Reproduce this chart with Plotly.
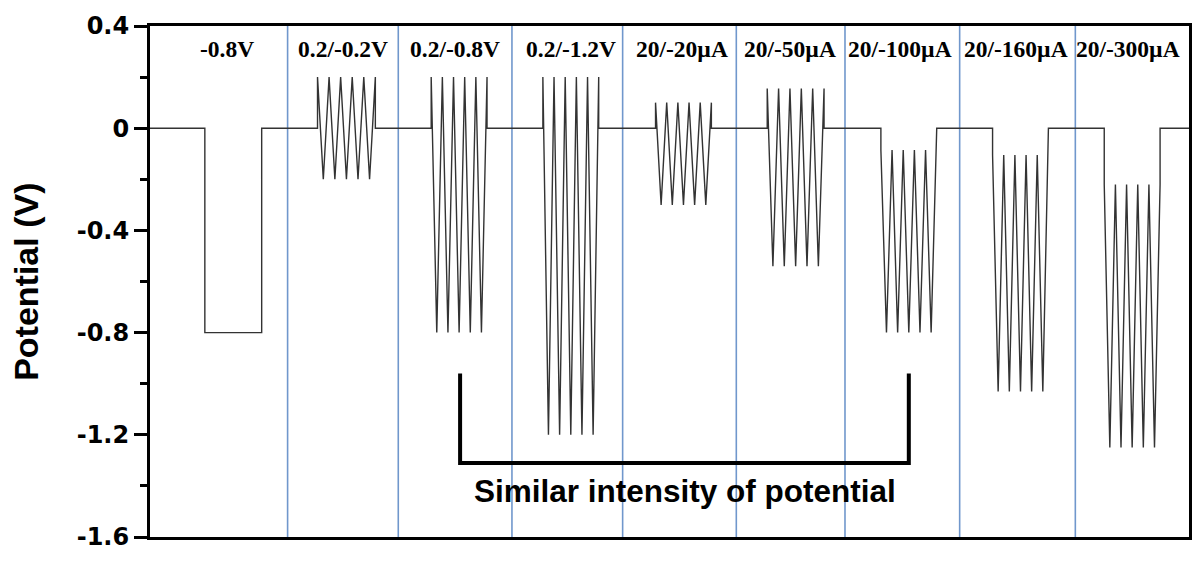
import plotly.graph_objects as go

# ---- data ----
labels = ["-0.8V", "0.2/-0.2V", "0.2/-0.8V", "0.2/-1.2V", "20/-20µA",
          "20/-50µA", "20/-100µA", "20/-160µA", "20/-300µA"]
label_x = [77, 194, 306, 422, 534, 642, 752, 868, 981]
pulse_start = [55, 168, 282, 394, 507, 619, 733, 845, 957]
pulse_end = [112, 226, 338, 450, 563, 676, 789, 901, 1013]
upper = [-0.8, 0.2, 0.2, 0.2, 0.1, 0.155, -0.085, -0.105, -0.22]
lower = [-0.8, -0.2, -0.8, -1.2, -0.3, -0.54, -0.8, -1.03, -1.25]
cycles = [0, 5, 5, 5, 5, 5, 5, 5, 5]
dividers = [138, 249, 363, 474, 588, 697, 812, 928]
t_end = 1042
ytick_vals = [0.4, 0, -0.4, -0.8, -1.2, -1.6]
ytick_text = ["0.4", "0", "-0.4", "-0.8", "-1.2", "-1.6"]
bracket_x = [311, 761]
bracket_y = [-0.96, -1.31]
note_text = "Similar intensity of potential"

# ---- build the waveform ----
t = [0]
v = [0]
for s, e, u, lo, n in zip(pulse_start, pulse_end, upper, lower, cycles):
    t.append(s); v.append(0)
    if n == 0:
        t += [s, e]; v += [u, lo]
    else:
        for k in range(2 * n + 1):
            t.append(s + (e - s) * k / (2 * n))
            v.append(u if k % 2 == 0 else lo)
    t.append(e); v.append(0)
t.append(t_end); v.append(0)

fig = go.Figure()
fig.add_trace(go.Scatter(x=t, y=v, mode="lines",
                         line=dict(color="#333333", width=1.4),
                         showlegend=False, hoverinfo="skip"))

shapes = []
for d in dividers:
    shapes.append(dict(type="line", xref="x", yref="paper", x0=d, x1=d, y0=0, y1=1,
                       line=dict(color="#7097cc", width=1.6), layer="below"))
shapes.append(dict(type="path", xref="x", yref="y",
                   path=f"M {bracket_x[0]} {bracket_y[0]} L {bracket_x[0]} {bracket_y[1]} "
                        f"L {bracket_x[1]} {bracket_y[1]} L {bracket_x[1]} {bracket_y[0]}",
                   line=dict(color="black", width=4)))

annotations = []
for lx, lab in zip(label_x, labels):
    annotations.append(dict(x=lx, y=0.31, xref="x", yref="y", text=f"<b>{lab}</b>",
                            showarrow=False, xanchor="center", yanchor="middle",
                            font=dict(family="Liberation Serif", size=23.5, color="black")))
annotations.append(dict(x=(bracket_x[0] + bracket_x[1]) / 2 + 1, y=-1.42, xref="x", yref="y",
                        text=f"<b>{note_text}</b>", showarrow=False,
                        xanchor="center", yanchor="middle",
                        font=dict(family="Liberation Sans", size=31.5, color="black")))
annotations.append(dict(x=-125 / 1042, y=0.5, xref="paper", yref="paper",
                        text="<b>Potential (V)</b>", showarrow=False, textangle=-90,
                        xanchor="center", yanchor="middle",
                        font=dict(family="Liberation Sans", size=34, color="black")))

fig.update_layout(
    width=1196, height=563,
    margin=dict(l=150, r=4, t=26, b=26),
    paper_bgcolor="white", plot_bgcolor="white",
    shapes=shapes, annotations=annotations,
    xaxis=dict(range=[0, t_end], showticklabels=False, ticks="", showgrid=False,
               zeroline=False, showline=True, linecolor="black", linewidth=3, mirror=True),
    yaxis=dict(range=[-1.6, 0.4], tickvals=ytick_vals, ticktext=ytick_text,
               ticks="outside", ticklen=13, tickwidth=3, tickcolor="black",
               minor=dict(dtick=0.2, tick0=0, ticks="outside", ticklen=7, tickwidth=3,
                          tickcolor="black"),
               showgrid=False, zeroline=False, showline=True, linecolor="black",
               linewidth=3, mirror=True,
               tickfont=dict(family="DejaVu Sans", size=24, color="black", weight="bold")),
)

fig.write_html("out.html")
